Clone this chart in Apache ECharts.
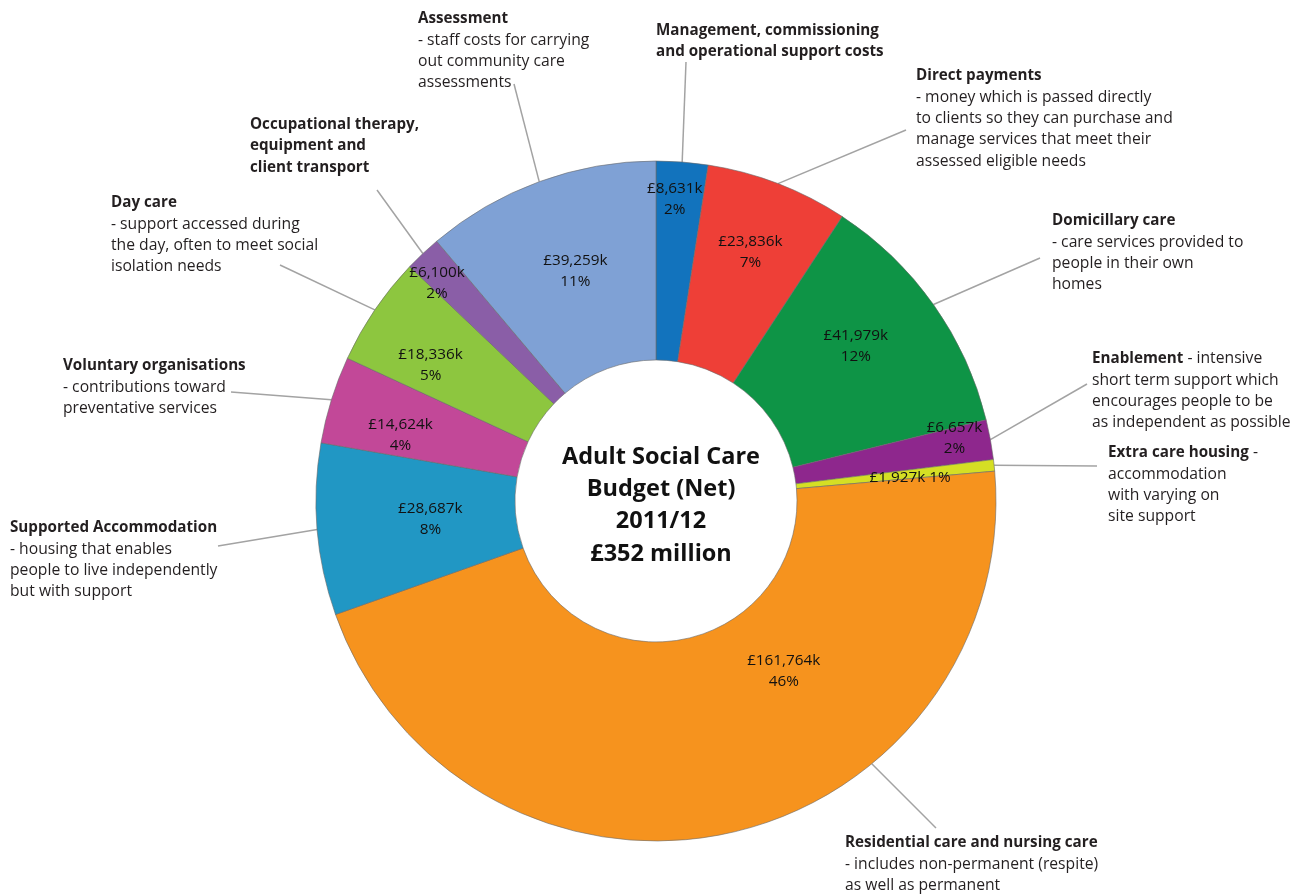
<!DOCTYPE html>
<html><head><meta charset="utf-8">
<script src="https://cdn.jsdelivr.net/npm/echarts@6/dist/echarts.min.js"></script>
<style>html,body{margin:0;padding:0;background:#fff}#c{width:1309px;height:896px}</style>
</head><body><div id="c"></div>
<script>
const categories = ['Management', 'Direct payments', 'Domicillary care', 'Enablement', 'Extra care housing', 'Residential care and nursing care', 'Supported Accommodation', 'Voluntary organisations', 'Day care', 'Occupational therapy', 'Assessment'];
const values = [8631, 23836, 41979, 6657, 1927, 161764, 28687, 14624, 18336, 6100, 39259];
const colors = ['#1273BD', '#EE3F37', '#0E9446', '#8E278D', '#D5DF24', '#F6931E', '#2197C4', '#C24898', '#8DC63F', '#8A5EA7', '#7FA1D5'];
const titles = [
  'Management, commissioning\nand operational support costs',
  'Direct payments',
  'Domicillary care',
  'Enablement',
  'Extra care housing',
  'Residential care and nursing care',
  'Supported Accommodation',
  'Voluntary organisations',
  'Day care',
  'Occupational therapy,\nequipment and\nclient transport',
  'Assessment'
];
const descriptions = [
  '',
  '\n- money which is passed directly\nto clients so they can purchase and\nmanage services that meet their\nassessed eligible needs',
  '\n- care services provided to\npeople in their own\nhomes',
  ' - intensive\nshort term support which\nencourages people to be\nas independent as possible',
  ' -\naccommodation\nwith varying on\nsite support',
  '\n- includes non-permanent (respite)\nas well as permanent',
  '\n- housing that enables\npeople to live independently\nbut with support',
  '\n- contributions toward\npreventative services',
  '\n- support accessed during\nthe day, often to meet social\nisolation needs',
  '',
  '\n- staff costs for carrying\nout community care\nassessments'
];
const centreTitle = ['Adult Social Care', 'Budget (Net)', '2011/12', '£352 million'];

const FONT = '"Open Sans", "Noto Sans", sans-serif';
const TXT = '#231f20';
const CX = 656, CY = 501, R0 = 141, R1 = 340;
const total = values.reduce((a, b) => a + b, 0);

// label placement tweaks (text only)
const innerNudge = [[0,-59],[7,-22],[1,-14],[59,-19],[12,2],[76,-68],[17,-2],[-23,7],[-24,1],[-52,-41],[3,-1]];
const notePos = [[656,20],[916,65],[1052,210],[1092,348],[1108,442],[845,832],[10,517],[63,355],[111,192],[250,114],[418,8]];
const noteLineEnd = [[686,62],[906,130],[1040,258],[1087,384],[1097,466],[936,828],[218,546],[231,392],[280,265],[377,190],[514,84]];
const anchorAngleOverride = {5: 140.6};

const midAngles = [];
(function () {
  let acc = 0;
  values.forEach(v => { midAngles.push((acc + v / 2) / total * 360); acc += v; });
})();

function noteText(i) {
  const tl = titles[i].split('\n').map(s => '{b|' + s + '}');
  let d = descriptions[i];
  if (d && d.charAt(0) !== '\n') {
    const parts = d.split('\n');
    tl[tl.length - 1] += '{n|' + parts[0] + '}';
    d = parts.slice(1).join('\n');
    if (d) d = '\n' + d;
  }
  const dl = d ? d.slice(1).split('\n').map(s => '{n|' + s + '}') : [];
  return tl.concat(dl).join('\n');
}

const data = categories.map((c, i) => ({ name: c, value: values[i], itemStyle: { color: colors[i] } }));

const chart = echarts.init(document.getElementById('c'));
chart.setOption({
  animation: false,
  title: {
    text: centreTitle.join('\n'),
    left: CX, top: CY - 65, textAlign: 'center',
    textStyle: { fontFamily: FONT, fontWeight: 'bold', fontSize: 23.5, lineHeight: 32.3, color: '#111' }
  },
  series: [
    {
      type: 'pie', center: [CX, CY], radius: [R0, R1], startAngle: 90, clockwise: true,
      avoidLabelOverlap: false, silent: true,
      itemStyle: { borderColor: '#6a6a6a', borderWidth: 0.6 },
      label: {
        show: true, position: 'inside', color: '#111', fontFamily: FONT, fontSize: 15.3, lineHeight: 21,
        formatter: p => {
          const v = '£' + p.value.toLocaleString('en-GB') + 'k';
          const pc = Math.round(p.value / total * 100) + '%';
          return p.dataIndex === 4 ? v + ' ' + pc : v + '\n' + pc;
        }
      },
      labelLine: { show: false },
      labelLayout: p => ({ dx: innerNudge[p.dataIndex][0], dy: innerNudge[p.dataIndex][1] }),
      data: data
    },
    {
      type: 'pie', center: [CX, CY], radius: [R0, R1], startAngle: 90, clockwise: true,
      avoidLabelOverlap: false, silent: true, z: 1,
      itemStyle: { color: 'rgba(0,0,0,0)', borderWidth: 0 },
      label: {
        show: true, position: 'outside', align: 'left',
        formatter: p => noteText(p.dataIndex),
        rich: {
          b: { fontFamily: FONT, fontWeight: 'bold', fontSize: 15.2, lineHeight: 21.4, color: TXT },
          n: { fontFamily: FONT, fontSize: 15.7, lineHeight: 21.4, color: TXT }
        }
      },
      labelLine: { show: true, length: 10, length2: 10, lineStyle: { color: '#a3a3a3', width: 1.5 } },
      labelLayout: p => {
        const i = p.dataIndex;
        const a = (anchorAngleOverride[i] !== undefined ? anchorAngleOverride[i] : midAngles[i]) * Math.PI / 180;
        const anchor = [CX + R1 * Math.sin(a), CY - R1 * Math.cos(a)];
        const end = noteLineEnd[i];
        return {
          x: notePos[i][0], y: notePos[i][1], align: 'left', verticalAlign: 'top',
          labelLinePoints: [anchor, end, end]
        };
      },
      data: categories.map((c, i) => ({ name: c, value: values[i] }))
    }
  ]
});
</script>
</body></html>
